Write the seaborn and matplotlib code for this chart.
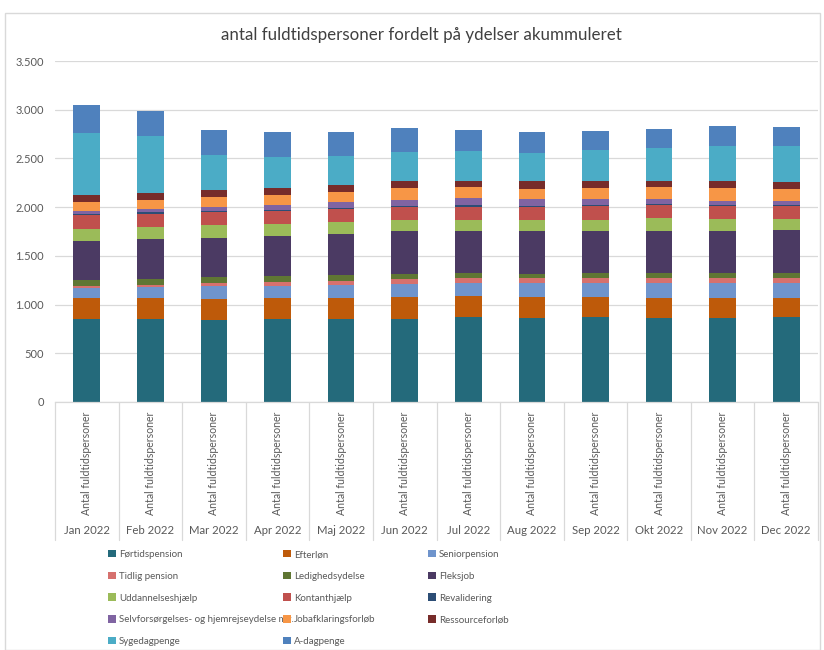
import matplotlib
matplotlib.use("Agg")
import matplotlib.pyplot as plt
import matplotlib.transforms as mtransforms
from matplotlib.patches import Patch, Rectangle
import numpy as np
import pandas as pd
import seaborn as sns

months = ["Jan 2022", "Feb 2022", "Mar 2022", "Apr 2022", "Maj 2022", "Jun 2022",
          "Jul 2022", "Aug 2022", "Sep 2022", "Okt 2022", "Nov 2022", "Dec 2022"]
sub_label = "Antal fuldtidspersoner"

series_names = ["Førtidspension", "Efterløn", "Seniorpension", "Tidlig pension",
                "Ledighedsydelse", "Fleksjob", "Uddannelseshjælp", "Kontanthjælp",
                "Revalidering", "Selvforsørgelses- og hjemrejseydelse mv.",
                "Jobafklaringsforløb", "Ressourceforløb", "Sygedagpenge", "A-dagpenge"]

fortidspension = [850, 850, 839, 850, 847, 853, 870, 867, 870, 867, 867, 873]
efterlon       = [218, 218, 215, 218, 218, 225, 218, 211, 208, 201, 201, 195]
seniorpension  = [102, 116, 133, 122, 136, 137, 137, 143, 140, 150, 150, 150]
tidlig_pension = [24, 21, 38, 45, 45, 47, 47, 51, 54, 54, 54, 54]
ledighedsydelse = [62, 54, 58, 58, 54, 55, 52, 41, 52, 52, 52, 52]
fleksjob       = [392, 416, 402, 413, 427, 436, 429, 440, 433, 433, 429, 443]
uddannelseshjaelp = [130, 119, 129, 116, 119, 110, 120, 110, 116, 130, 127, 113]
kontanthjaelp  = [143, 140, 138, 136, 133, 136, 133, 136, 137, 136, 133, 133]
revalidering   = [13, 14, 13, 17, 13, 17, 17, 17, 17, 14, 14, 14]
selvforsorgelse = [28, 34, 34, 48, 58, 62, 68, 65, 54, 44, 41, 41]
jobafklaring   = [88, 96, 109, 106, 110, 120, 120, 106, 117, 130, 133, 119]
ressourceforlob = [79, 68, 72, 72, 68, 71, 61, 78, 67, 61, 64, 68]
sygedagpenge   = [631, 580, 355, 310, 293, 300, 300, 294, 322, 335, 359, 369]
a_dagpenge     = [287, 263, 256, 256, 246, 243, 219, 208, 190, 190, 204, 194]

series_values = [fortidspension, efterlon, seniorpension, tidlig_pension, ledighedsydelse,
                 fleksjob, uddannelseshjaelp, kontanthjaelp, revalidering, selvforsorgelse,
                 jobafklaring, ressourceforlob, sygedagpenge, a_dagpenge]

colors = ["#246A7B", "#BE5A0A", "#6F94CC", "#D6716E", "#5F7633", "#4B3A63",
          "#9BBB59", "#C0504D", "#2C4D75", "#8064A2", "#F79646", "#772C2A",
          "#4BACC6", "#4F81BD"]

sns.set_theme(style="white")
plt.rcParams["font.family"] = ["Lato", "DejaVu Sans"]

fig = plt.figure(figsize=(8.24, 6.5), dpi=100)
W, H = 824, 650
ax = fig.add_axes([55 / W, 1 - 402 / H, (818 - 55) / W, (402 - 61) / H])

# chart border
fig.patches.append(Rectangle((5 / W, 0), (820 - 5) / W, 1 - 13 / H, transform=fig.transFigure,
                             fill=False, edgecolor="#D9D9D9", linewidth=1.0))

df = pd.DataFrame({name: vals for name, vals in zip(series_names, series_values)})
df["month"] = months
cum = df[series_names].cumsum(axis=1)

for i in reversed(range(len(series_names))):
    sns.barplot(x=df["month"], y=cum[series_names[i]], color=colors[i], order=months,
                width=0.42, ax=ax, saturation=1, linewidth=0, errorbar=None)

ax.set_ylim(0, 3500)
ax.set_xlim(-0.5, len(months) - 0.5)
ax.set_yticks(np.arange(0, 3501, 500))
ax.set_yticklabels([f"{int(v):,}".replace(",", ".") for v in np.arange(0, 3501, 500)],
                   fontsize=8, color="#595959")
ax.yaxis.grid(True, color="#D9D9D9", linewidth=0.9)
ax.set_axisbelow(True)
for s in ["top", "right", "left"]:
    ax.spines[s].set_visible(False)
ax.spines["bottom"].set_color("#D9D9D9")
ax.spines["bottom"].set_linewidth(0.9)
ax.tick_params(axis="y", length=0, pad=8)
ax.tick_params(axis="x", length=0, pad=7)
ax.set_xticks(range(len(months)))
ax.set_xticklabels([sub_label] * len(months), rotation=90, fontsize=7.6, color="#595959",
                   va="top", ha="center")
ax.set_xlabel("")
ax.set_ylabel("")

trans = mtransforms.blended_transform_factory(ax.transData, ax.transAxes)
for k in range(len(months) + 1):
    ax.plot([k - 0.5, k - 0.5], [0, -(540 - 402) / (402 - 61)], color="#D9D9D9",
            linewidth=0.9, transform=trans, clip_on=False)
for k, m in enumerate(months):
    ax.text(k, -(530 - 402) / (402 - 61), m, transform=trans, ha="center", va="center",
            fontsize=8.2, color="#595959")

fig.text(421 / W, 1 - 35 / H, "antal fuldtidspersoner fordelt på ydelser akummuleret",
         ha="center", va="center", fontsize=12.2, color="#404040")

# legend: three columns, row-wise order
handles = [Patch(facecolor=c, edgecolor="none") for c in colors]
col_x = [108, 283, 428]
for c in range(3):
    idx = list(range(c, len(series_names), 3))
    fig.legend([handles[i] for i in idx], [series_names[i] for i in idx],
               loc="upper left", bbox_to_anchor=(col_x[c] / W, 1 - 550 / H),
               frameon=False, fontsize=7.0, handlelength=0.8, handleheight=0.8,
               handletextpad=0.35, labelspacing=1.3, borderpad=0, borderaxespad=0,
               labelcolor="#595959")

fig.savefig("out.png", dpi=100)
